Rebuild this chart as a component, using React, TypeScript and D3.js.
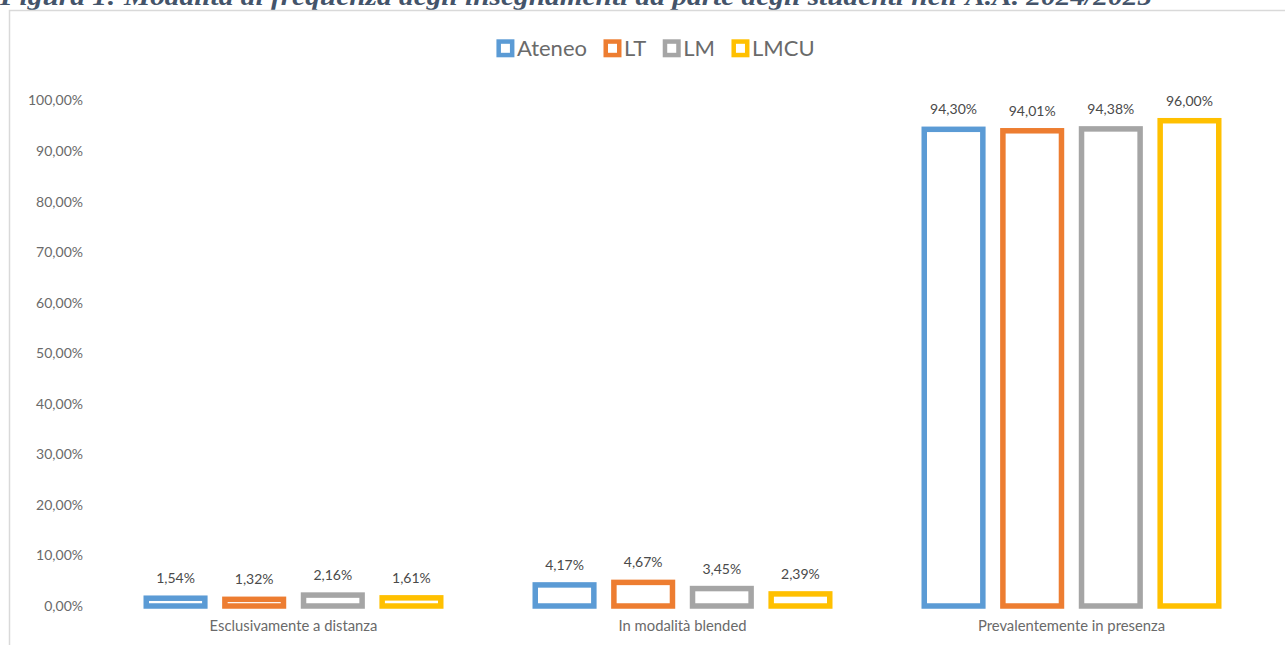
import React, { useEffect, useRef } from "react";
import * as d3 from "d3";

const categories = ["Esclusivamente a distanza", "In modalità blended", "Prevalentemente in presenza"];
const seriesNames = ["Ateneo", "LT", "LM", "LMCU"];
const seriesColors = ["#5B9BD5", "#ED7D31", "#A5A5A5", "#FFC000"];
const ateneo = [0.0154, 0.0417, 0.943];
const lt = [0.0132, 0.0467, 0.9401];
const lm = [0.0216, 0.0345, 0.9438];
const lmcu = [0.0161, 0.0239, 0.96];
const yTicks = [0, 0.1, 0.2, 0.3, 0.4, 0.5, 0.6, 0.7, 0.8, 0.9, 1.0];
const titleText = "Figura 1: Modalità di frequenza degli insegnamenti da parte degli studenti nell'A.A. 2024/2025";

const W = 1285;
const H = 645;
const FONT = "Lato, 'Open Sans', sans-serif";

const fmt = (v: number) => (v * 100).toFixed(2).replace(".", ",") + "%";

export default function App() {
  const ref = useRef<SVGSVGElement>(null);

  useEffect(() => {
    const svg = d3.select(ref.current);
    svg.selectAll("*").remove();

    const values = [ateneo, lt, lm, lmcu];

    // Title (cropped at top, as in the reference)
    svg.append("text")
      .attr("x", 0)
      .attr("y", 5)
      .attr("font-family", "'Liberation Serif', 'Times New Roman', serif")
      .attr("font-weight", "bold")
      .attr("font-style", "italic")
      .attr("font-size", 25)
      .attr("fill", "#44546A")
      .attr("textLength", 1152)
      .attr("lengthAdjust", "spacingAndGlyphs")
      .text(titleText);

    // Chart frame
    svg.append("rect")
      .attr("x", 9.5)
      .attr("y", 10.5)
      .attr("width", 1400)
      .attr("height", 700)
      .attr("fill", "none")
      .attr("stroke", "#D9D9D9")
      .attr("stroke-width", 1.5);

    const x0 = d3.scaleBand<string>().domain(categories).range([99, 1266]).padding(0);
    const groupW = 300;
    const groupOff = (x0.bandwidth() - groupW) / 2;
    const x1 = d3.scaleBand<string>().domain(seriesNames).range([0, groupW]).paddingInner(0.185).paddingOuter(0);
    const y = d3.scaleLinear().domain([0, 1]).range([606, 100.5]);

    // Y axis labels
    svg.append("g")
      .selectAll("text")
      .data(yTicks)
      .join("text")
      .attr("x", 83)
      .attr("y", (d) => y(d))
      .attr("dy", "0.35em")
      .attr("text-anchor", "end")
      .attr("font-family", FONT)
      .attr("font-size", 14)
      .attr("fill", "#6A6A6A")
      .text((d) => fmt(d));

    const sw = 5.5;
    seriesNames.forEach((s, si) => {
      const g = svg.append("g");
      g.selectAll("rect")
        .data(values[si])
        .join("rect")
        .attr("x", (_d, i) => (x0(categories[i]) as number) + groupOff + (x1(s) as number) + sw / 2)
        .attr("y", (d) => y(d))
        .attr("width", x1.bandwidth() - sw)
        .attr("height", (d) => y(0) - y(d))
        .attr("fill", "none")
        .attr("stroke", seriesColors[si])
        .attr("stroke-width", sw);
      g.selectAll("text")
        .data(values[si])
        .join("text")
        .attr("x", (_d, i) => (x0(categories[i]) as number) + groupOff + (x1(s) as number) + x1.bandwidth() / 2)
        .attr("y", (d) => y(d) - 15)
        .attr("text-anchor", "middle")
        .attr("font-family", FONT)
        .attr("font-size", 14)
        .attr("fill", "#4A4A4A")
        .text((d) => fmt(d));
    });

    // Category labels
    svg.append("g")
      .selectAll("text")
      .data(categories)
      .join("text")
      .attr("x", (d) => (x0(d) as number) + x0.bandwidth() / 2)
      .attr("y", 631)
      .attr("text-anchor", "middle")
      .attr("font-family", FONT)
      .attr("font-size", 14.8)
      .attr("fill", "#6A6A6A")
      .text((d) => d);

    // Legend
    const lg = svg.append("g");
    const box = 18;
    const lsw = 4.5;
    const items: { g: any; w: number }[] = [];
    seriesNames.forEach((s, si) => {
      const ig = lg.append("g");
      ig.append("rect")
        .attr("x", lsw / 2)
        .attr("y", lsw / 2)
        .attr("width", box - lsw)
        .attr("height", box - lsw)
        .attr("fill", "none")
        .attr("stroke", seriesColors[si])
        .attr("stroke-width", lsw);
      const t = ig.append("text")
        .attr("x", box + 2.5)
        .attr("y", 16.8)
        .attr("font-family", FONT)
        .attr("font-size", 22)
        .attr("fill", "#6A6A6A")
        .text(s);
      const tw = (t.node() as SVGTextElement).getComputedTextLength();
      items.push({ g: ig, w: box + 2.5 + tw });
    });
    const gap = 16.5;
    const total = items.reduce((a, b) => a + b.w, 0) + gap * (items.length - 1);
    let cx = 655.5 - total / 2;
    items.forEach((it) => {
      it.g.attr("transform", `translate(${cx},39.3)`);
      cx += it.w + gap;
    });
  }, []);

  return (
    <svg
      ref={ref}
      width={W}
      height={H}
      style={{ position: "absolute", left: 0, top: 0, background: "#fff" }}
    />
  );
}
